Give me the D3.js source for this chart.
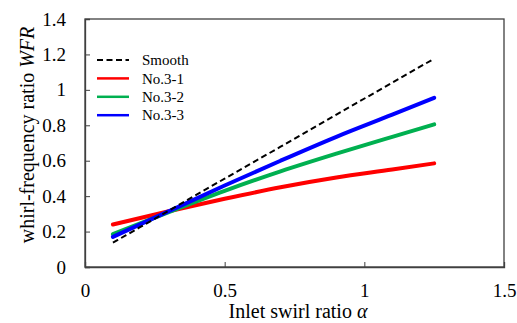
<!DOCTYPE html>
<html>
<head>
<meta charset="utf-8">
<script src="https://cdn.jsdelivr.net/npm/d3@7"></script>
<style>
  body { margin: 0; background: #fff; }
</style>
</head>
<body>
<div id="chart"></div>
<script>
// data
var alphas = [0.1, 0.3, 0.5, 0.7, 0.9, 1.1, 1.25];
var smooth = [0.137, 0.318, 0.499, 0.679, 0.860, 1.041, 1.176];
var no31 = [0.24, 0.315, 0.385, 0.45, 0.505, 0.55, 0.585];
var no32 = [0.185, 0.31, 0.43, 0.54, 0.64, 0.735, 0.805];
var no33 = [0.17, 0.315, 0.46, 0.60, 0.735, 0.86, 0.955];
var xTicks = [0, 0.5, 1, 1.5];
var yTicks = [0, 0.2, 0.4, 0.6, 0.8, 1, 1.2, 1.4];

var series = [
  {name: "Smooth", values: smooth, color: "#000", width: 2, dash: "6,3.5"},
  {name: "No.3-1", values: no31, color: "#ff0000", width: 4, dash: null},
  {name: "No.3-2", values: no32, color: "#00b050", width: 4, dash: null},
  {name: "No.3-3", values: no33, color: "#0000ff", width: 4, dash: null}
];

var serif = "'Liberation Serif'";

var width = 517, height = 323,
    margin = {left: 85, right: 13, top: 19, bottom: 56};

var svg = d3.select("#chart").append("svg")
    .attr("width", width)
    .attr("height", height)
    .style("font-family", serif);

var x = d3.scaleLinear().domain([0, 1.5]).range([margin.left, width - margin.right]);
var y = d3.scaleLinear().domain([0, 1.4]).range([height - margin.bottom, margin.top]);

// frame
svg.append("rect")
    .attr("x", x(0)).attr("y", y(1.4))
    .attr("width", x(1.5) - x(0)).attr("height", y(0) - y(1.4))
    .attr("fill", "none").attr("stroke", "#404040").attr("stroke-width", 1.3);

var xAxis = svg.append("g")
    .attr("transform", "translate(0," + y(0) + ")")
    .call(d3.axisBottom(x).tickValues(xTicks).tickSize(-5).tickPadding(17).tickFormat(d3.format("")));
var yAxis = svg.append("g")
    .attr("transform", "translate(" + x(0) + ",0)")
    .call(d3.axisLeft(y).tickValues(yTicks).tickSize(-5).tickPadding(19).tickFormat(d3.format("")));

[xAxis, yAxis].forEach(function(g) {
  g.select(".domain").attr("stroke", "#404040").attr("stroke-width", 1.3);
  g.selectAll(".tick line").attr("stroke", "#404040").attr("stroke-width", 1);
  g.selectAll(".tick text")
    .style("font-family", serif)
    .style("font-size", "19px").attr("fill", "#000");
});
xAxis.selectAll(".tick text").attr("dy", "0.71em");

var line = d3.line()
    .x(function(d, i) { return x(alphas[i]); })
    .y(function(d) { return y(d); })
    .curve(d3.curveMonotoneX);

// coloured lines first, dashed smooth line on top
[1, 2, 3, 0].forEach(function(k) {
  var s = series[k];
  svg.append("path")
    .datum(s.values)
    .attr("d", line)
    .attr("fill", "none")
    .attr("stroke", s.color)
    .attr("stroke-width", s.width)
    .attr("stroke-linecap", s.dash ? "butt" : "round")
    .attr("stroke-dasharray", s.dash);
});

// legend
var leg = svg.append("g").attr("transform", "translate(97,60)");
series.forEach(function(s, i) {
  var g = leg.append("g").attr("transform", "translate(0," + i * 18.4 + ")");
  g.append("line")
    .attr("x1", 0).attr("x2", 32)
    .attr("stroke", s.color)
    .attr("stroke-width", s.dash ? 2 : 2.5)
    .attr("stroke-dasharray", s.dash);
  g.append("text")
    .attr("x", 45).attr("dy", "0.35em")
    .style("font-family", serif)
    .style("font-size", "15px")
    .text(s.name);
});

// axis titles
var xt = svg.append("text")
    .attr("x", 298).attr("y", 318)
    .attr("text-anchor", "middle")
    .style("font-family", serif)
    .style("font-size", "20px");
xt.append("tspan").text("Inlet swirl ratio ");
xt.append("tspan").style("font-style", "italic").text("α");

var yt = svg.append("text")
    .attr("transform", "translate(34,135) rotate(-90)")
    .attr("text-anchor", "middle")
    .style("font-family", serif)
    .style("font-size", "20px");
yt.append("tspan").text("whirl-frequency ratio ");
yt.append("tspan").style("font-style", "italic").text("WFR");
</script>
</body>
</html>
